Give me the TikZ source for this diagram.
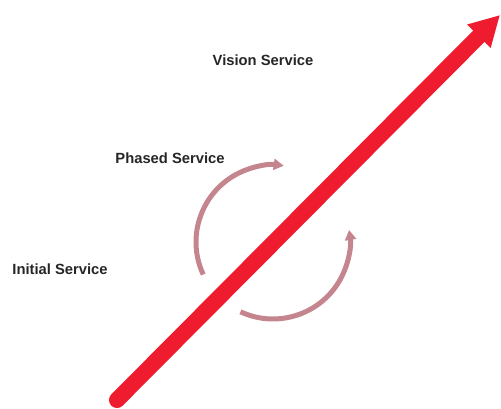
\documentclass[tikz,border=0pt]{standalone}
\usepackage{fontspec}
\setmainfont{Liberation Sans}
\usetikzlibrary{arrows.meta}
\definecolor{growthred}{HTML}{EE1C2E}
\definecolor{cyclepink}{HTML}{C4858E}

\begin{document}
\begin{tikzpicture}[x=0.02cm,y=0.02cm,
		label/.style={font=\fontsize{8.4}{10}\selectfont\bfseries,text=black!85,inner sep=0pt},
		growth/.style={draw=growthred,line width=0.32cm,line cap=round,-{Triangle[length=0.6cm,width=0.62cm]}},
		cycle/.style={draw=cyclepink,line width=0.1cm,-{Triangle[length=0.2cm,width=0.22cm]}}]
			\useasboundingbox (0,0) rectangle (501,409);
			\node[label] (initial) at (60,140) {Initial Service};
			\node[label] (phased) at (170,251) {Phased Service};
			\node[label] (vision) at (263,349) {Vision Service};
			\coordinate (C) at (273,167);
			\coordinate (S) at (117,9);
			\coordinate (T) at (500,394);
			\draw[cycle] (C) ++(205:1.54cm) arc[start angle=205,end angle=82,radius=1.54cm];
			\draw[cycle] (C) ++(245:1.54cm) arc[start angle=245,end angle=369,radius=1.54cm];
			\draw[growth] (S) -- (T);
		\end{tikzpicture}
\end{document}
